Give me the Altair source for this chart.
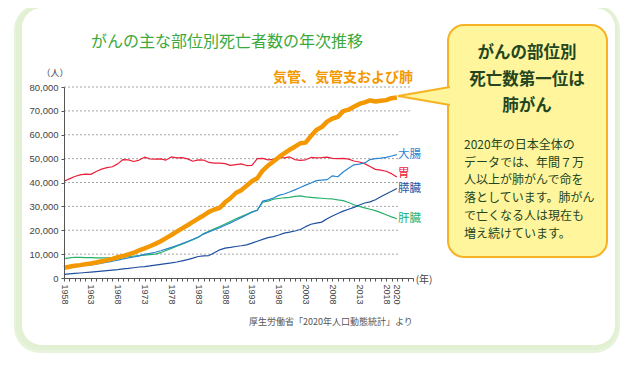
import altair as alt
import pandas as pd

# ---------------- data ----------------
years = list(range(1958, 2021))

lung = [4300, 4700, 5100, 5400, 5800, 6100, 6500, 7000, 7500, 8000,
        8700, 9200, 9900, 10600, 11600, 12400, 13300, 14300, 15400, 16700,
        18000, 19400, 20800, 22100, 23500, 24900, 26200, 27700, 28700, 29400,
        31700, 33400, 35600, 36800, 38600, 40500, 41800, 45000, 47100, 48800,
        50600, 52200, 53700, 55000, 56400, 56700, 59500, 62000, 63200, 65500,
        66800, 67500, 69900, 70500, 71700, 72900, 73600, 74400, 73900, 74200,
        74500, 75300, 75600]

stomach = [40500, 41500, 42500, 43200, 43500, 43400, 44600, 45600, 46200, 46600,
           47800, 49600, 49500, 48800, 49400, 50600, 49900, 49800, 49900, 49400,
           50700, 50300, 50400, 49900, 48900, 49500, 49400, 48400, 48100, 48100,
           47900, 47200, 47500, 47800, 47100, 47200, 50000, 50100, 49500, 49700,
           50600, 50300, 50700, 49600, 49300, 49500, 50500, 50300, 50400, 50600,
           50100, 50000, 50100, 49800, 49000, 48600, 47900, 46700, 45500, 45200,
           44700, 43700, 42300]

colon = [4400, 4700, 4900, 5100, 5300, 5500, 5800, 6200, 6600, 7000,
         7500, 8000, 8400, 8800, 9300, 9900, 10300, 10800, 11400, 12100,
         12800, 13600, 14400, 15300, 16200, 17200, 18400, 19300, 20200, 21100,
         22100, 23100, 24200, 25300, 26400, 27600, 28300, 32200, 32700, 33500,
         34600, 35200, 36000, 36900, 37900, 38900, 39800, 40800, 41000, 41200,
         42800, 42400, 44400, 46000, 47400, 47700, 48200, 49600, 50000, 50200,
         50500, 51100, 51700]

pancreas = [1500, 1700, 1900, 2100, 2300, 2500, 2700, 2900, 3100, 3300,
            3500, 3800, 4000, 4300, 4600, 4800, 5100, 5400, 5700, 6000,
            6300, 6700, 7200, 7700, 8300, 9000, 9300, 9400, 10600, 11800,
            12500, 12800, 13200, 13500, 13900, 14600, 15400, 16200, 16900, 17300,
            18000, 18800, 19200, 19700, 20300, 21500, 22500, 23000, 23400, 24800,
            26000, 27000, 28000, 28800, 29600, 30600, 31400, 31900, 32800, 34000,
            35200, 36300, 37500]

liver = [8100, 8400, 8700, 8600, 8500, 8500, 8400, 8400, 8400, 8500,
         8600, 8800, 9000, 9200, 9400, 9600, 9800, 10000, 10600, 11500,
         12400, 13300, 14200, 15100, 16000, 17000, 18600, 19600, 20600, 21600,
         22600, 23700, 24800, 25700, 26700, 27600, 28500, 31800, 32200, 33000,
         33300, 33600, 33800, 34200, 34400, 34000, 33800, 33600, 33400, 33200,
         33100, 32700, 32400, 31600, 30700, 30000, 29400, 28800, 28200, 27400,
         26500, 25600, 24800]

y_ticks = [0, 10000, 20000, 30000, 40000, 50000, 60000, 70000, 80000]
x_label_years = [1958, 1963, 1968, 1973, 1978, 1983, 1988, 1993, 1998, 2003, 2008, 2013, 2018, 2020]
x_tick_years = list(range(1958, 2024))

title_text = "がんの主な部位別死亡者数の年次推移"
lung_label = "気管、気管支および肺"
side_labels = ["大腸", "胃", "膵臓", "肝臓"]
callout_title = ["がんの部位別", "死亡数第一位は", "肺がん"]
callout_body = ["2020年の日本全体の", "データでは、年間７万", "人以上が肺がんで命を",
                "落としています。肺がん", "で亡くなる人は現在も", "増え続けています。"]
source_text = "厚生労働省「2020年人口動態統計」より"

# ---------------- layout ----------------
OX, OY = 64, 87          # page position of plot origin
W, H = 349, 191
JP = "Noto Sans CJK JP"
NUM = "Liberation Sans"

xs = alt.Scale(domain=[1958, 2023], nice=False, zero=False)
ys = alt.Scale(domain=[0, 80000], nice=False)

one = pd.DataFrame({"k": [0]})


def box(x0, y0, x1, y1, **kw):
    return alt.Chart(one).mark_rect(**kw).encode(
        x=alt.value(x0 - OX), x2=alt.value(x1 - OX),
        y=alt.value(y0 - OY), y2=alt.value(y1 - OY))


def label(text, x, y, **kw):
    return alt.Chart(pd.DataFrame({"t": [text]})).mark_text(**kw).encode(
        x=alt.value(x - OX), y=alt.value(y - OY), text="t:N")


label_expr = ("indexof([" + ",".join(str(v) for v in x_label_years) +
              "], datum.value) >= 0 ? '' + datum.value : ''")

x_axis = alt.Axis(values=x_tick_years, labelExpr=label_expr, labelAngle=90,
                  labelFont=NUM, labelFontSize=9, labelColor="#444",
                  labelOverlap=False, labelFlush=False, labelPadding=3,
                  tickSize=3, tickColor="#555", domainColor="#555",
                  grid=False, title=None, zindex=1)
y_axis = alt.Axis(values=y_ticks, labelExpr="format(datum.value, ',')",
                  labelFont=NUM, labelFontSize=9.5,
                  labelColor="#444", labelPadding=3, tickSize=3, tickColor="#555",
                  domainColor="#555", grid=False, title=None, zindex=1)

# background panel
bg = [
    box(14, 4, 620, 353, fill="#d3eabf", cornerRadius=26, opacity=0.55),
    box(16, 5, 618, 350, fill="#e2f1d4", cornerRadius=24),
    box(22, 8, 615, 345, fill="#ffffff", cornerRadius=20),
]

# gridlines
grid_lo = alt.Chart(pd.DataFrame({"v": y_ticks[1:7]})).mark_rule(
    color="#9a9a9a", strokeDash=[2, 2], strokeWidth=0.9).encode(
    x=alt.value(0), x2=alt.value(335), y=alt.Y("v:Q", scale=ys, axis=y_axis))
grid_hi = alt.Chart(pd.DataFrame({"v": y_ticks[7:]})).mark_rule(
    color="#9a9a9a", strokeDash=[2, 2], strokeWidth=0.9).encode(
    x=alt.value(0), x2=alt.value(348), y=alt.Y("v:Q", scale=ys, axis=y_axis))


def series(vals, color, width):
    df = pd.DataFrame({"year": years, "value": vals})
    return alt.Chart(df).mark_line(color=color, strokeWidth=width,
                                   strokeJoin="round").encode(
        x=alt.X("year:Q", scale=xs, axis=x_axis),
        y=alt.Y("value:Q", scale=ys, axis=y_axis))


lines = [
    series(stomach, "#e8203a", 1.2),
    series(liver, "#27b06b", 1.2),
    series(colon, "#2a86d1", 1.2),
    series(pancreas, "#1f4f9e", 1.2),
    series(lung, "#f39800", 4.5),
]

texts = [
    label(title_text, 227, 42, font=JP, fontSize=16, color="#3ba93b", align="center", baseline="middle"),
    label(lung_label, 413, 78, font=JP, fontSize=14, fontWeight="bold", color="#f39800", align="right", baseline="middle"),
    label("（人）", 55, 73, font=JP, fontSize=9, color="#444", align="center", baseline="middle"),
    label("(年)", 424, 280, font=JP, fontSize=10, color="#444", align="center", baseline="middle"),
    label(side_labels[0], 398, 155, font=JP, fontSize=11.5, color="#2a86d1", align="left", baseline="middle"),
    label(side_labels[1], 398, 174, font=JP, fontSize=11.5, color="#e8203a", align="left", baseline="middle"),
    label(side_labels[2], 398, 189, font=JP, fontSize=11.5, color="#1f4f9e", align="left", baseline="middle"),
    label(side_labels[3], 398, 219, font=JP, fontSize=11.5, color="#27b06b", align="left", baseline="middle"),
    label(source_text, 249, 322, font=JP, fontSize=9, color="#555", align="left", baseline="middle"),
]

# callout
callout = [
    box(448, 25, 607, 257, fill="#fff59c", stroke="#f5b225", strokeWidth=2, cornerRadius=16),
    alt.Chart(one).mark_point(shape="M 26,-9 L -26,0 L 26,9", size=4, filled=True,
                              fill="#fff59c", stroke="#f5b225", strokeWidth=2, opacity=1).encode(
        x=alt.value(424 - OX), y=alt.value(96 - OY)),
]
for i, t in enumerate(callout_title):
    callout.append(label(t, 527, 53 + i * 26.5, font=JP, fontSize=16.5, fontWeight="bold",
                         color="#23461f", align="center", baseline="middle"))
for i, t in enumerate(callout_body):
    callout.append(label(t, 464, 145 + i * 17.7, font=JP, fontSize=12,
                         color="#23461f", align="left", baseline="middle"))

chart = alt.layer(*bg, grid_lo, grid_hi, *lines, *texts, *callout).properties(
    width=W, height=H,
    autosize=alt.AutoSizeParams(type="none"),
    padding={"left": OX - 8, "top": OY - 8, "right": 207, "bottom": 78},
).configure_view(stroke=None).configure_axis(zindex=1)

chart.save("out.html", embed_options={"renderer": "svg", "actions": False})
